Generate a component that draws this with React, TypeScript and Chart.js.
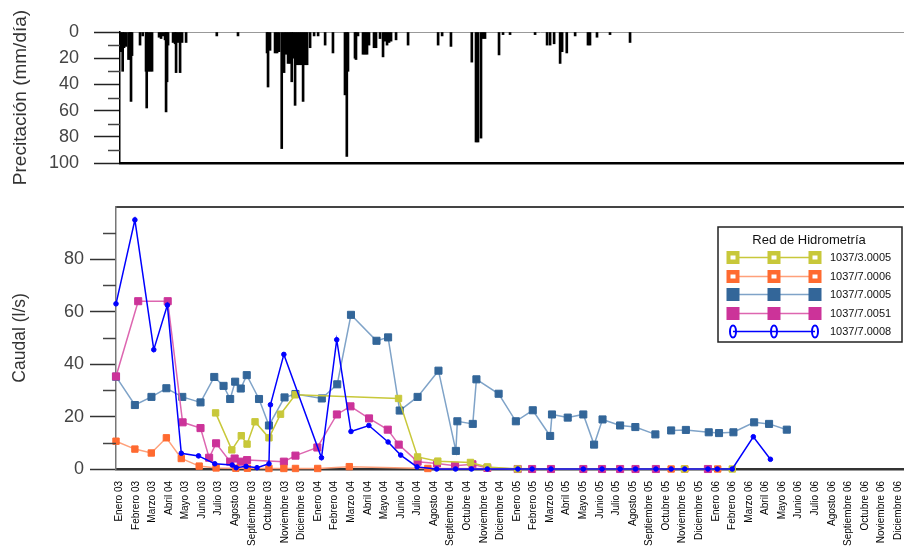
import React, { useEffect, useRef } from 'react';
import { Chart, registerables } from 'chart.js';

Chart.register(...registerables);

// ---------- DATA ----------
const monthLabels = [
  'Enero 03', 'Febrero 03', 'Marzo 03', 'Abril 04', 'Mayo 03', 'Junio 03', 'Julio 03', 'Agosto 03',
  'Septiembre 03', 'Octubre 03', 'Noviembre 03', 'Diciembre 03',
  'Enero 04', 'Febrero 04', 'Marzo 04', 'Abril 04', 'Mayo 04', 'Junio 04', 'Julio 04', 'Agosto 04',
  'Septiembre 04', 'Octubre 04', 'Noviembre 04', 'Diciembre 04',
  'Enero 05', 'Febrero 05', 'Marzo 05', 'Abril 05', 'Mayo 05', 'Junio 05', 'Julio 05', 'Agosto 05',
  'Septiembre 05', 'Octubre 05', 'Noviembre 05', 'Diciembre 05',
  'Enero 06', 'Febrero 06', 'Marzo 06', 'Abril 06', 'Mayo 06', 'Junio 06', 'Julio 06', 'Agosto 06',
  'Septiembre 06', 'Octubre 06', 'Noviembre 06', 'Diciembre 06',
];

// Daily precipitation (x in months since Enero 03, value in mm/día)
const precipMonth = [
  0.10, 0.20, 0.28, 0.40, 0.55, 0.64, 0.70, 0.76, 1.24, 1.40,
  1.60, 1.64, 1.72, 1.84, 1.96, 2.38, 2.50, 2.62, 2.74, 2.80,
  2.86, 2.92, 3.22, 3.34, 3.40, 3.52, 3.64, 3.76, 4.00, 5.84,
  7.11, 8.85, 8.91, 9.03, 9.33, 9.45, 9.57, 9.73, 9.87, 9.99,
  10.11, 10.23, 10.33, 10.41, 10.53, 10.65, 10.77, 10.89, 11.01, 11.13,
  11.25, 11.43, 11.67, 11.91, 12.33, 12.80, 13.52, 13.63, 13.70, 14.12,
  14.18, 14.30, 14.60, 14.72, 14.84, 14.96, 15.26, 15.38, 15.62, 15.80,
  15.92, 16.04, 16.16, 16.28, 16.58, 17.30, 19.10, 19.34, 19.87, 21.12,
  21.37, 21.49, 21.67, 21.79, 21.91, 22.75, 22.99, 23.41, 24.91, 25.63,
  25.81, 26.05, 26.41, 26.53, 26.81, 27.31, 28.08, 28.20, 28.62, 29.40,
  30.60,
];
const precipMm = [
  15, 30, 12, 11, 21, 21, 53, 18, 10, 3,
  30, 58, 30, 30, 30, 4, 5, 3, 6, 61,
  38, 10, 8, 9, 31, 8, 31, 8, 8, 3,
  3, 16, 42, 14, 16, 16, 15, 89, 31, 17,
  24, 24, 38, 20, 56, 25, 25, 25, 53, 25,
  25, 12, 3, 3, 10, 16, 48, 95, 30, 20,
  21, 3, 17, 17, 17, 10, 12, 12, 5, 19,
  7, 10, 8, 7, 6, 10, 10, 3, 11, 23,
  84, 84, 81, 5, 5, 17.5, 2, 2, 2, 10,
  10, 9, 24, 15, 16, 3, 10, 10, 4, 2,
  8,
];

// Caudal series (x in months since Enero 03, value in l/s)
const s30005Month = [5.81, 6.79, 7.36, 7.71, 8.19, 9.03, 9.73, 10.62, 16.85, 18.00, 19.22, 21.19, 22.21, 24.04, 34.10, 36.99];
const s30005Flow = [21.4, 7.3, 12.7, 9.5, 18, 11.9, 20.9, 28.3, 26.9, 4.6, 3, 2.5, 0.8, 0, 0, 0];

const s70006Month = [-0.20, 0.94, 1.93, 2.84, 3.74, 4.82, 5.84, 7.03, 7.73, 9.03, 9.93, 10.63, 11.97, 13.88, 18.62, 33.30, 34.13, 36.11];
const s70006Flow = [10.6, 7.6, 6.1, 11.9, 4, 1.1, 0.4, 0.3, 0.3, 0.2, 0.2, 0.2, 0.2, 0.9, 0.2, 0, 0, 0];

const s70005Month = [
  -0.20, 0.94, 1.94, 2.84, 3.80, 4.90, 5.73, 6.29, 6.69, 6.99,
  7.33, 7.69, 8.43, 9.03, 9.97, 10.63, 12.22, 13.15, 13.98, 15.52,
  16.22, 16.92, 18.00, 19.26, 20.31, 20.40, 21.33, 21.55, 22.89, 23.93,
  24.95, 26.00, 26.11, 27.06, 28.00, 28.65, 29.16, 30.22, 31.14, 32.35,
  32.80, 33.30, 34.19, 35.57, 36.19, 37.06, 38.31, 39.21, 40.28,
];
const s70005Flow = [
  35.2, 24.4, 27.5, 30.8, 27.5, 25.4, 35.1, 31.7, 26.7, 33.3,
  30.7, 35.8, 26.7, 16.6, 27.3, 28.6, 26.9, 32.3, 58.8, 48.9,
  50.2, 22.3, 27.5, 37.5, 6.9, 18.2, 17.2, 34.2, 28.7, 18.2,
  22.4, 12.6, 20.8, 19.6, 20.8, 9.3, 18.9, 16.6, 16, 13.2,
  null, 14.7, 14.9, 14, 13.7, 14, 17.8, 17.2, 15,
];

const s70051Month = [
  -0.20, 1.14, 2.92, 3.82, 4.90, 5.42, 5.84, 6.69, 6.96, 7.33,
  7.71, 9.93, 10.63, 11.95, 13.13, 13.95, 15.07, 16.20, 16.86, 18.00,
  19.17, 20.26, 21.31, 22.21, 24.04, 24.91, 26.05, 28.00, 29.13, 30.22,
  31.15, 32.38, 35.52,
];
const s70051Flow = [
  35.3, 64, 64, 17.8, 15.6, 4.3, 9.8, 2.8, 4, 2.8,
  3.4, 2.8, 5.1, 8.2, 20.8, 23.9, 19.3, 15, 9.3, 2.8,
  2.1, 1.2, 1.8, 0.4, 0, 0, 0, 0, 0, 0,
  0, 0, 0,
];

const s70008Month = [
  -0.20, 0.94, 2.08, 2.90, 3.74, 4.78, 5.76, 6.81, 7.05, 7.65,
  8.31, 9.03, 9.12, 9.93, 12.20, 13.12, 13.98, 15.06, 16.22, 16.98,
  17.97, 19.15, 20.29, 21.25, 22.21, 24.05, 24.91, 26.05, 28.00, 29.13,
  30.22, 31.15, 32.38, 33.30, 34.12, 35.52, 36.09, 36.99, 38.26, 39.29,
];
const s70008Flow = [
  63, 95, 45.5, 62.5, 6, 5, 2, 1.5, 0.5, 1,
  0.5, 2, 24.5, 43.7, 4.3, 49.3, 14.3, 16.6, 10.3, 5.3,
  0.8, 0, 0, 0, 0, 0, 0, 0, 0, 0,
  0, 0, 0, 0, 0, 0, 0, 0, 12.3, 3.7,
];

const legendTitle = 'Red de Hidrometría';
const seriesLabels = ['1037/3.0005', '1037/7.0006', '1037/7.0005', '1037/7.0051', '1037/7.0008'];
const precipTitle = 'Precitación (mm/día)';
const flowTitle = 'Caudal (l/s)';

// ---------- STYLE ----------
const FONT = '"Liberation Sans", Arial, Helvetica, sans-serif';
const C = {
  yellow: '#c8c83a',
  orange: '#ff6a30',
  orangeLine: '#ffa07a',
  steel: '#336699',
  steelLine: '#7fa3c8',
  magenta: '#cc3399',
  magentaLine: '#dd66b0',
  blue: '#0000ff',
};
const legendMarker: Record<string, string> = {
  '1037/3.0005': 'hollow',
  '1037/7.0006': 'hollow',
  '1037/7.0005': 'solid',
  '1037/7.0051': 'solid',
  '1037/7.0008': 'ellipse',
};

const pts = (xs: number[], ys: (number | null)[]) => xs.map((x, i) => ({ x, y: ys[i] }));

function minorTicksPlugin(id: string, length: number, color: string, width: number) {
  return {
    id,
    afterDraw(chart: any) {
      const s = chart.scales.y;
      const ctx = chart.ctx;
      ctx.save();
      ctx.strokeStyle = color;
      ctx.lineWidth = width;
      for (let v = 10; v < s.max; v += 20) {
        const y = Math.round(s.getPixelForValue(v)) + 0.5;
        ctx.beginPath();
        ctx.moveTo(s.right - length, y);
        ctx.lineTo(s.right, y);
        ctx.stroke();
      }
      ctx.restore();
    },
  };
}

const legendPlugin = {
  id: 'hidroLegend',
  afterDraw(chart: any) {
    const { ctx } = chart;
    const left = 718, top = 37, width = 184, height = 115;
    ctx.save();
    ctx.fillStyle = '#fff';
    ctx.fillRect(left, top, width, height);
    ctx.strokeStyle = '#222';
    ctx.lineWidth = 1.5;
    ctx.strokeRect(left, top, width, height);
    ctx.fillStyle = '#111';
    ctx.font = `13px ${FONT}`;
    ctx.textAlign = 'center';
    ctx.textBaseline = 'middle';
    ctx.fillText(legendTitle, left + 91, top + 13);
    ctx.font = `11px ${FONT}`;
    ctx.textAlign = 'left';
    seriesLabels.forEach((label, i) => {
      const ds = chart.data.datasets.find((d: any) => d.label === label);
      if (!ds) return;
      const y = Math.round(top + 30 + i * 18.5);
      ctx.strokeStyle = ds.borderColor;
      ctx.lineWidth = 1.5;
      ctx.beginPath();
      ctx.moveTo(733, y + 0.5);
      ctx.lineTo(815, y + 0.5);
      ctx.stroke();
      const kind = legendMarker[label];
      [733, 774, 815].forEach((x) => {
        if (kind === 'ellipse') {
          ctx.strokeStyle = ds.pointBackgroundColor;
          ctx.lineWidth = 2;
          ctx.beginPath();
          ctx.ellipse(x, y + 0.5, 3, 6, 0, 0, Math.PI * 2);
          ctx.stroke();
        } else {
          ctx.fillStyle = ds.pointBackgroundColor;
          ctx.fillRect(x - 6.5, y - 6, 13, 13);
          if (kind === 'hollow') {
            ctx.fillStyle = '#fff';
            ctx.fillRect(x - 2.5, y - 1.5, 5, 4);
          }
        }
      });
      ctx.fillStyle = '#111';
      ctx.fillText(label, 830, y + 1);
    });
    ctx.restore();
  },
};

export default function App() {
  const topRef = useRef<HTMLCanvasElement>(null);
  const botRef = useRef<HTMLCanvasElement>(null);

  useEffect(() => {
    Chart.defaults.font.family = FONT;

    const top = new Chart(topRef.current as HTMLCanvasElement, {
      type: 'bar',
      data: {
        datasets: [
          {
            label: 'Precipitación',
            data: pts(precipMonth, precipMm),
            backgroundColor: '#000',
            barThickness: 2,
          } as any,
        ],
      },
      options: {
        responsive: false,
        animation: false,
        layout: { padding: { left: 0, right: 0, top: 32, bottom: 27 } },
        plugins: { legend: { display: false }, tooltip: { enabled: false } },
        scales: {
          x: {
            type: 'linear',
            min: 0.04,
            max: 50.37,
            offset: false,
            position: 'bottom',
            ticks: { display: false },
            grid: { display: false, drawTicks: false, offset: false },
            border: { color: '#000', width: 2.5 },
            afterFit: (s: any) => { s.height = 0; },
          },
          xt: {
            type: 'linear',
            min: 0.04,
            max: 50.37,
            offset: false,
            position: 'top',
            ticks: { display: false },
            grid: { display: false, drawTicks: false, offset: false },
            border: { color: '#999', width: 1 },
            afterFit: (s: any) => { s.height = 0; },
          },
          y: {
            reverse: true,
            min: 0,
            max: 100,
            ticks: { stepSize: 20, color: '#444', padding: 15, font: { size: 18, family: FONT } },
            grid: { drawOnChartArea: false, tickLength: 26, tickColor: '#222', tickWidth: 1.5 },
            border: { color: '#000', width: 1.5 },
            title: { display: true, text: precipTitle, color: '#333', font: { size: 19, family: FONT }, padding: { top: 9, bottom: 0 } },
            afterFit: (s: any) => { s.width = 120; },
          },
        },
      } as any,
      plugins: [minorTicksPlugin('minorTop', 12, '#444', 1.5)],
    });

    const bottom = new Chart(botRef.current as HTMLCanvasElement, {
      type: 'line',
      data: {
        datasets: [
          {
            label: '1037/7.0008',
            data: pts(s70008Month, s70008Flow),
            borderColor: C.blue,
            borderWidth: 1.5,
            pointStyle: 'circle',
            pointRadius: 2.3,
            pointBackgroundColor: C.blue,
            pointBorderColor: C.blue,
            pointBorderWidth: 1,
          },
          {
            label: '1037/3.0005',
            data: pts(s30005Month, s30005Flow),
            borderColor: C.yellow,
            borderWidth: 1.5,
            pointStyle: 'rect',
            pointRadius: 4.5,
            pointBackgroundColor: C.yellow,
            pointBorderColor: C.yellow,
            pointBorderWidth: 1,
          },
          {
            label: '1037/7.0006',
            data: pts(s70006Month, s70006Flow),
            borderColor: C.orangeLine,
            borderWidth: 1.5,
            pointStyle: 'rect',
            pointRadius: 4.5,
            pointBackgroundColor: C.orange,
            pointBorderColor: C.orange,
            pointBorderWidth: 1,
          },
          {
            label: '1037/7.0051',
            data: pts(s70051Month, s70051Flow),
            borderColor: C.magentaLine,
            borderWidth: 1.5,
            pointStyle: 'rect',
            pointRadius: 5,
            pointBackgroundColor: C.magenta,
            pointBorderColor: C.magenta,
            pointBorderWidth: 1,
          },
          {
            label: '1037/7.0005',
            data: pts(s70005Month, s70005Flow),
            borderColor: C.steelLine,
            borderWidth: 1.5,
            pointStyle: 'rect',
            pointRadius: 5,
            pointBackgroundColor: C.steel,
            pointBorderColor: C.steel,
            pointBorderWidth: 1,
            spanGaps: false,
          },
        ].map((d) => ({ ...d, tension: 0, clip: false, fill: false })) as any,
      },
      options: {
        responsive: false,
        animation: false,
        layout: { padding: { left: 0, right: 0, top: 14, bottom: 0 } },
        plugins: { legend: { display: false }, tooltip: { enabled: false } },
        scales: {
          x: {
            type: 'linear',
            min: -0.2,
            max: 50.37,
            position: 'bottom',
            afterBuildTicks: (s: any) => {
              s.ticks = monthLabels.map((_, i) => ({ value: i }));
            },
            ticks: {
              autoSkip: false,
              minRotation: 90,
              maxRotation: 90,
              padding: 12,
              color: '#000',
              font: { size: 10, family: FONT },
              callback: (v: any) => monthLabels[v] ?? '',
            },
            grid: { drawOnChartArea: false, drawTicks: false },
            border: { color: '#333', width: 2.5 },
            afterFit: (s: any) => { s.height = 86; },
          },
          xt: {
            type: 'linear',
            min: -0.2,
            max: 50.37,
            position: 'top',
            ticks: { display: false },
            grid: { display: false, drawTicks: false },
            border: { color: '#444', width: 2 },
            afterFit: (s: any) => { s.height = 0; },
          },
          y: {
            min: 0,
            max: 100,
            ticks: {
              stepSize: 20,
              color: '#444',
              padding: 6,
              font: { size: 18, family: FONT },
              callback: (v: any) => (v === 100 ? '' : String(v)),
            },
            grid: {
              drawOnChartArea: false,
              tickLength: 26,
              tickWidth: 1.5,
              tickColor: (ctx: any) => (ctx.tick && ctx.tick.value === 100 ? 'rgba(0,0,0,0)' : '#333'),
            },
            border: { color: '#777', width: 1.5 },
            title: { display: true, text: flowTitle, color: '#333', font: { size: 17.5, family: FONT }, padding: { top: 10, bottom: 0 } },
            afterFit: (s: any) => { s.width = 116; },
          },
        },
      } as any,
      plugins: [minorTicksPlugin('minorBottom', 13, '#444', 1.5), legendPlugin],
    });

    return () => {
      top.destroy();
      bottom.destroy();
    };
  }, []);

  return (
    <div style={{ position: 'fixed', left: 0, top: 0, width: 904, height: 555, overflow: 'hidden', background: '#fff' }}>
      <canvas ref={topRef} width={960} height={190} style={{ position: 'absolute', left: 0, top: 0 }} />
      <canvas ref={botRef} width={960} height={365} style={{ position: 'absolute', left: 0, top: 190 }} />
    </div>
  );
}
